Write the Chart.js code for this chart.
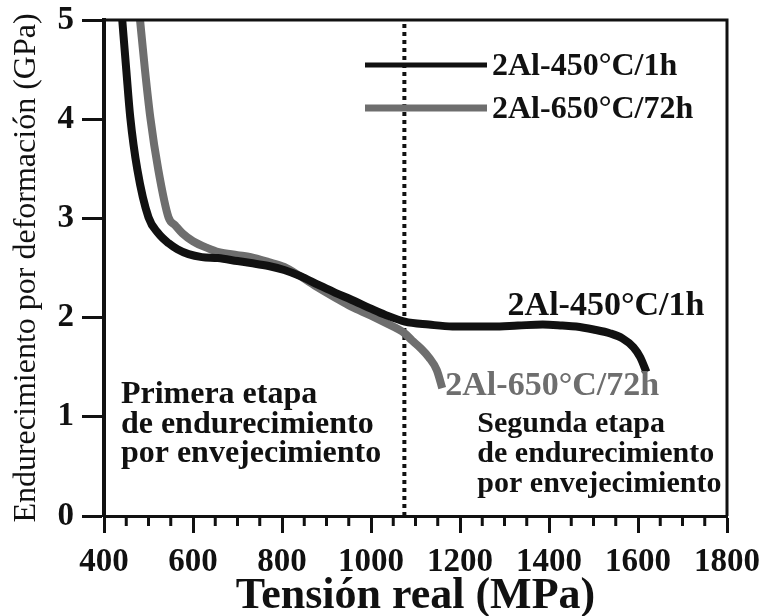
<!DOCTYPE html>
<html lang="es">
<head>
  <meta charset="UTF-8" />
  <title>Endurecimiento por deformación vs tensión real</title>
  <script src="https://cdn.jsdelivr.net/npm/chart.js"></script>
  <style>
    html, body { margin: 0; padding: 0; background: #fff; }
    #wrap { width: 760px; height: 616px; position: relative; }
  </style>
</head>
<body>
  <div id="wrap"><canvas id="curveChart"></canvas></div>
  <script>
    // series names
    const series = ['2Al-450°C/1h', '2Al-650°C/72h'];

    // 2Al aged 450 °C / 1 h : true stress (MPa) vs strain hardening (GPa)
    const tension450 = [441, 450, 459, 475, 500, 522, 545, 565, 590, 620, 656, 700, 730, 770, 805, 840, 882,
                        920, 956, 1000, 1031, 1076, 1130, 1183, 1230, 1273, 1330, 1386, 1430, 1461, 1500,
                        1538, 1565, 1590, 1605, 1619];
    const dureza450  = [5.0, 4.5, 4.02, 3.49, 3.01, 2.85, 2.75, 2.69, 2.64, 2.61, 2.60, 2.57, 2.55, 2.52, 2.48, 2.42, 2.33,
                        2.25, 2.18, 2.09, 2.03, 1.96, 1.93, 1.91, 1.91, 1.91, 1.92, 1.93, 1.92, 1.91, 1.88,
                        1.84, 1.79, 1.70, 1.60, 1.45];

    // 2Al aged 650 °C / 72 h
    const tension650 = [481, 492, 504, 522, 545, 560, 576, 600, 633, 658, 700, 730, 770, 805, 840, 882, 920,
                        956, 1000, 1031, 1076, 1092, 1112, 1130, 1148, 1160];
    const dureza650  = [5.0, 4.5, 4.02, 3.49, 3.01, 2.93, 2.85, 2.77, 2.70, 2.66, 2.63, 2.61, 2.56, 2.51, 2.42, 2.30, 2.20,
                        2.11, 2.02, 1.95, 1.84, 1.77, 1.69, 1.60, 1.47, 1.29];

    // boundary between the two aging stages (MPa)
    const limiteEtapas = 1075;

    // axes
    const xRange = [400, 1800];
    const yRange = [0, 5];

    const SERIF = '"Liberation Serif", "Times New Roman", serif';
    const INK = '#111111';
    const GRIS = '#6e6e6e';

    const toPoints = (xs, ys) => xs.map((x, i) => ({ x, y: ys[i] }));

    // free text inside the plot, anchored in data units (MPa, GPa)
    const notas = [
      { lines: ['2Al-450°C/1h'], x: 1307, y: 2.03, size: 34, color: INK },
      { lines: ['2Al-650°C/72h'], x: 1167, y: 1.22, size: 34, color: GRIS },
      { lines: ['Primera etapa', 'de endurecimiento', 'por envejecimiento'], x: 438, y: 1.14, size: 32, color: INK, lead: 0.30 },
      { lines: ['Segunda etapa', 'de endurecimiento', 'por envejecimiento'], x: 1239, y: 0.85, size: 30, color: INK, lead: 0.305 }
    ];

    const extras = {
      id: 'extras',
      afterDraw(chart) {
        const { ctx, chartArea: a, scales: { x, y } } = chart;
        ctx.save();

        // top and right frame
        ctx.strokeStyle = INK;
        ctx.lineWidth = 3;
        ctx.beginPath();
        ctx.moveTo(a.left, a.top);
        ctx.lineTo(a.right, a.top);
        ctx.lineTo(a.right, a.bottom);
        ctx.stroke();

        // minor ticks every 50 MPa
        ctx.beginPath();
        for (let v = xRange[0] + 50; v < xRange[1]; v += 50) {
          if (v % 200 === 0) continue;
          const px = x.getPixelForValue(v);
          ctx.moveTo(px, a.bottom);
          ctx.lineTo(px, a.bottom + 10);
        }
        ctx.stroke();

        // legend, top right inside the frame
        const ds = chart.data.datasets.filter(d => d.inLegend);
        ds.forEach((d, i) => {
          const ly = a.top + 45 + i * 43;
          ctx.strokeStyle = d.borderColor;
          ctx.lineWidth = i === 0 ? 5 : 7;
          ctx.beginPath();
          ctx.moveTo(a.right - 362, ly);
          ctx.lineTo(a.right - 240, ly);
          ctx.stroke();
          ctx.fillStyle = INK;
          ctx.font = 'bold 32px ' + SERIF;
          ctx.textBaseline = 'middle';
          ctx.fillText(d.label, a.right - 235, ly + 2);
        });

        // annotations
        ctx.textBaseline = 'alphabetic';
        notas.forEach(n => {
          ctx.font = 'bold ' + n.size + 'px ' + SERIF;
          ctx.fillStyle = n.color;
          n.lines.forEach((t, i) => {
            ctx.fillText(t, x.getPixelForValue(n.x), y.getPixelForValue(n.y - i * (n.lead || 0)));
          });
        });
        ctx.restore();
      }
    };

    new Chart(document.getElementById('curveChart'), {
      type: 'line',
      data: {
        datasets: [
          {
            label: series[0],
            inLegend: true,
            data: toPoints(tension450, dureza450),
            borderColor: INK,
            borderWidth: 8,
            pointRadius: 0,
            cubicInterpolationMode: 'monotone',
            clip: 0
          },
          {
            label: series[1],
            inLegend: true,
            data: toPoints(tension650, dureza650),
            borderColor: GRIS,
            borderWidth: 8,
            pointRadius: 0,
            cubicInterpolationMode: 'monotone',
            clip: 0
          },
          {
            label: 'límite',
            data: [{ x: limiteEtapas, y: yRange[0] }, { x: limiteEtapas, y: yRange[1] }],
            borderColor: INK,
            borderWidth: 4,
            borderDash: [4, 4],
            pointRadius: 0
          }
        ]
      },
      options: {
        responsive: true,
        maintainAspectRatio: false,
        animation: false,
        layout: { padding: { top: 20, right: 33, left: 0, bottom: 0 } },
        plugins: {
          legend: { display: false },
          tooltip: { enabled: false }
        },
        scales: {
          x: {
            type: 'linear',
            min: xRange[0],
            max: xRange[1],
            // fixed axis band; edge labels may hang over the padding
            afterFit: s => { s.height = 100; s.paddingLeft = 0; s.paddingRight = 0; },
            border: { color: INK, width: 3 },
            grid: { drawOnChartArea: false, tickLength: 17, tickWidth: 3, tickColor: INK },
            ticks: {
              stepSize: 200,
              color: INK,
              padding: 10,
              callback: v => String(v),
              font: { family: SERIF, size: 33, weight: 'bold' }
            },
            title: {
              display: true,
              text: 'Tensión real (MPa)',
              color: INK,
              padding: { top: 0, bottom: -3 },
              font: { family: SERIF, size: 44, weight: 'bold', lineHeight: 1 }
            }
          },
          y: {
            min: yRange[0],
            max: yRange[1],
            afterFit: s => { s.width = 104; s.paddingTop = 0; s.paddingBottom = 0; },
            border: { color: INK, width: 4 },
            grid: { drawOnChartArea: false, tickLength: 22, tickWidth: 3, tickColor: INK },
            ticks: {
              stepSize: 1,
              color: INK,
              padding: 8,
              font: { family: SERIF, size: 33, weight: 'bold' }
            },
            title: {
              display: true,
              text: 'Endurecimiento por deformación (GPa)',
              color: INK,
              padding: { top: 7, bottom: 0 },
              font: { family: SERIF, size: 32, weight: 'normal' }
            }
          }
        }
      },
      plugins: [extras]
    });
  </script>
</body>
</html>
